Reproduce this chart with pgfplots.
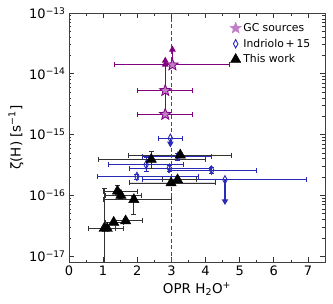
\documentclass[border=0pt]{standalone}
\usepackage{fontspec}
\setmainfont{DejaVu Sans}
\usepackage{pgfplots}
\pgfplotsset{compat=1.18}
\definecolor{gcpurple}{HTML}{800080}
\definecolor{gcfill}{HTML}{C27DC8}
\definecolor{ibl}{HTML}{2A2AB8}
\definecolor{ebar}{HTML}{333333}
\definecolor{vred}{HTML}{FF0000}
\pgfdeclareplotmark{fstar}{%
  \pgfpathmoveto{\pgfpointpolar{90}{\pgfplotmarksize}}%
  \pgfpathlineto{\pgfpointpolar{126}{0.42\pgfplotmarksize}}%
  \pgfpathlineto{\pgfpointpolar{162}{\pgfplotmarksize}}%
  \pgfpathlineto{\pgfpointpolar{198}{0.42\pgfplotmarksize}}%
  \pgfpathlineto{\pgfpointpolar{234}{\pgfplotmarksize}}%
  \pgfpathlineto{\pgfpointpolar{270}{0.42\pgfplotmarksize}}%
  \pgfpathlineto{\pgfpointpolar{306}{\pgfplotmarksize}}%
  \pgfpathlineto{\pgfpointpolar{342}{0.42\pgfplotmarksize}}%
  \pgfpathlineto{\pgfpointpolar{18}{\pgfplotmarksize}}%
  \pgfpathlineto{\pgfpointpolar{54}{0.42\pgfplotmarksize}}%
  \pgfpathclose
  \pgfusepathqfillstroke
}
\begin{document}
\begin{tikzpicture}
\path[use as bounding box] (-69pt,-42pt) rectangle (264pt,262pt);
\begin{axis}[at={(0,0)}, anchor=south west, scale only axis,
  width=256pt, height=249pt,
  xmin=0, xmax=7.5, ymode=log, ymin=8e-18, ymax=1e-13,
  xtick={0,1,2,3,4,5,6,7}, xticklabels={0,1,2,3,4,5,6,7}, minor x tick num=1,
  ytick={1e-17,1e-16,1e-15,1e-14,1e-13},
  yticklabels={10\textsuperscript{−17},10\textsuperscript{−16},10\textsuperscript{−15},10\textsuperscript{−14},10\textsuperscript{−13}},
  tick label style={font=\fontsize{13}{15}\selectfont},
  label style={font=\fontsize{13.5}{15}\selectfont},
  ylabel shift=-1pt,
  xlabel={OPR H\textsubscript{2}O\textsuperscript{+}},
  ylabel={ζ(H) [s\textsuperscript{−1}]},
  major tick length=5pt, minor tick length=2.5pt,
  tick style={black!80, line width=0.6pt},
  axis line style={line width=0.8pt, black!75},
  legend style={draw=none, fill=none, at={(rel axis cs:0.963,0.975)}, anchor=north east,
    font=\fontsize{10.8}{13}\selectfont, row sep=2pt},
  legend cell align=left,
  legend image post style={xshift=-6pt},
]
\addlegendimage{only marks, mark=fstar, mark size=6pt, draw=gcfill, fill=gcfill}
\addlegendentry{GC sources}
\addlegendimage{only marks, mark=diamond, mark size=3pt, ibl, line width=0.9pt, mark options={yscale=1.4}}
\addlegendentry{Indriolo\,+\,15}
\addlegendimage{only marks, mark=triangle*, mark size=6pt, black}
\addlegendentry{This work}

% GC sources: lower limits (shaft + arrow head)
\addplot[forget plot, color=gcpurple, line width=1.4pt, mark=triangle*, mark indices={2}, mark size=2.6pt]
  coordinates {(3.03,1.4e-14) (3.03,2.5e-14)};
\addplot[forget plot, color=gcpurple, line width=1.4pt, mark=triangle*, mark indices={2}, mark size=2.6pt]
  coordinates {(2.82,5.3e-15) (2.82,1.64e-14)};
\addplot[forget plot, color=gcpurple, line width=1.4pt, mark=triangle*, mark indices={2}, mark size=2.6pt]
  coordinates {(2.82,2.15e-15) (2.82,1.42e-14)};
% GC sources
\addplot[forget plot, only marks, mark=fstar, mark size=6pt, draw=gcpurple, fill=gcfill, line width=0.8pt,
  error bars/.cd, x dir=both, x explicit, y dir=none,
  error bar style={draw=gcpurple, line width=1pt},
  error mark options={rotate=90, draw=gcpurple, mark size=2.5pt, line width=1pt}]
coordinates {
(3.03,1.4e-14) += (1.67,0) -= (1.69,0)
(2.82,5.3e-15) += (0.81,0) -= (0.81,0)
(2.82,2.15e-15) += (0.81,0) -= (0.81,0)
};

% Indriolo+15: upper limits (shaft + arrow head)
\addplot[forget plot, color=ibl, line width=1.2pt, mark=triangle*, mark indices={2}, mark size=2.6pt,
  mark options={rotate=180}] coordinates {(2.97,8.7e-16) (2.97,7.1e-16)};
\addplot[forget plot, color=ibl, line width=1.2pt, mark=triangle*, mark indices={2}, mark size=2.6pt,
  mark options={rotate=180}] coordinates {(4.57,1.8e-16) (4.57,8.0e-17)};
% Indriolo+15
\addplot[forget plot, only marks, mark=diamond, mark size=3pt, draw=ibl, fill=white, line width=0.9pt, mark options={yscale=1.4},
  error bars/.cd, x dir=both, x explicit, y dir=both, y explicit,
  error bar style={draw=ibl, line width=0.8pt},
  error mark options={rotate=90, draw=ibl, mark size=2.5pt, line width=0.8pt}]
coordinates {
(2.97,8.7e-16) += (0.34,0) -= (0.34,0)
(3.19,4.4e-16) += (0.99,0.5e-16) -= (1.03,0.7e-16)
(2.26,3.2e-16) += (1.09,1.0e-16) -= (1.10,0.7e-16)
(2.94,2.8e-16) += (1.21,0.3e-16) -= (1.16,0.3e-16)
(4.18,2.6e-16) += (1.32,0.3e-16) -= (1.28,0.3e-16)
(1.99,2.05e-16) += (1.81,0.2e-16) -= (1.17,0.2e-16)
(4.57,1.8e-16) += (2.39,0) -= (2.41,0)
};

% This work
\addplot[forget plot, only marks, mark=triangle*, mark size=6pt, draw=black, fill=black,
  error bars/.cd, x dir=both, x explicit, y dir=both, y explicit,
  error bar style={draw=ebar, line width=0.8pt},
  error mark options={rotate=90, draw=ebar, mark size=2.5pt, line width=0.8pt}]
coordinates {
(2.41,3.9e-16) += (1.58,1.3e-16) -= (1.54,1.1e-16)
(3.26,4.6e-16) += (1.49,0.3e-16) -= (1.51,0.4e-16)
(3.18,1.8e-16) += (0.56,0.1e-16) -= (0.43,0.15e-16)
(2.99,1.6e-16) += (1.30,0.15e-16) -= (1.21,0.15e-16)
(1.42,1.17e-16) += (0.57,0.3e-16) -= (0.41,0.15e-16)
(1.52,1.0e-16) += (0.60,0.1e-16) -= (0.45,0.1e-16)
(1.90,8.5e-17) += (1.09,1.0e-17) -= (0.89,3.7e-17)
(1.66,3.8e-17) += (0.49,0.3e-17) -= (0.32,0.4e-17)
(1.31,3.6e-17) += (0.27,0.3e-17) -= (0.24,0.3e-17)
(1.03,2.85e-17) += (0.55,10.15e-17) -= (0.45,2.75e-17)
(1.12,2.85e-17) += (0.23,0.2e-17) -= (0.12,0.2e-17)
};

% reference line OPR = 3
\addplot[forget plot, color=vred, line width=1.5pt, dash pattern=on 4pt off 2.5pt]
  coordinates {(3,8e-18) (3,1e-13)};
\end{axis}
\end{tikzpicture}
\end{document}
